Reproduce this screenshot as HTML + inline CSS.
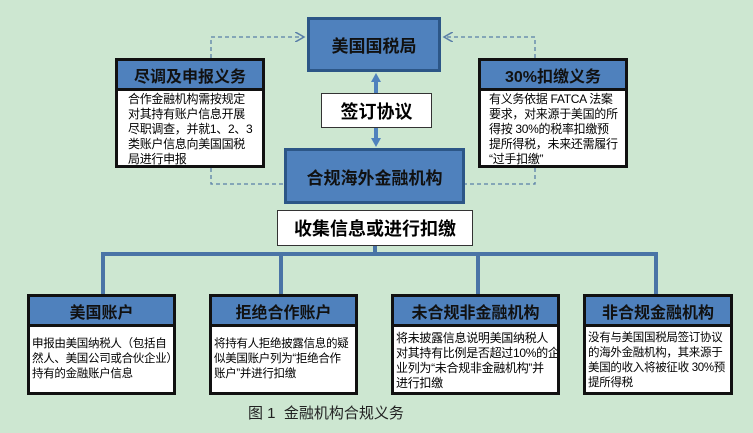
<!DOCTYPE html><html><head><meta charset="utf-8"><style>
body{margin:0;width:753px;height:433px;background:#cde7d1;position:relative;overflow:hidden;font-family:"Liberation Sans","Noto Sans CJK SC",sans-serif}
.a{position:absolute;box-sizing:border-box}
.blue{background:#4f81bd;border:3px solid #2c5687;display:flex;align-items:center;justify-content:center;font-weight:bold;color:#111}
.card{border:3px solid #111;background:#fff;overflow:hidden}
.card .h{background:#4f81bd;border-bottom:3px solid #111;height:27px;display:flex;align-items:center;justify-content:center;font-weight:bold;font-size:16px;color:#111}
.card .b{font-size:12px;line-height:15px;padding:1px 2px;color:#000;white-space:nowrap;letter-spacing:-0.3px}
.w{background:#fff;border:1px solid #333;display:flex;align-items:center;justify-content:center;font-weight:bold;font-size:18px}
</style></head><body>
<svg class="a" style="left:0;top:0" width="753" height="433">
<defs><marker id="m" markerWidth="8" markerHeight="8" refX="7" refY="4" orient="auto"><path d="M0,0 L7,4 L0,8" fill="none" stroke="#5a7fa8" stroke-width="1.2"/></marker></defs>
<g stroke="#5a7fa8" stroke-width="1.3" stroke-dasharray="4,3" fill="none">
<path d="M211 58 V37 H304" marker-end="url(#m)"/><path d="M211 168 V184 H284"/>
<path d="M535 58 V37 H444" marker-end="url(#m)"/><path d="M535 168 V184 H465"/></g>
<line x1="376" y1="80" x2="376" y2="140" stroke="#4f81bd" stroke-width="4"/>
<path d="M376 73 l-5 9 h10z M376 147 l-5 -9 h10z" fill="#4f81bd"/>
<g stroke="#4a74a6" stroke-width="4" fill="none"><path d="M375 246 V254"/><path d="M103 294 V254 H656 V294"/><path d="M281 254 V294 M478 254 V294"/></g>
</svg>
<div class="a blue" style="left:307px;top:17px;width:134px;height:55px;font-size:17px">美国国税局</div>
<div class="a blue" style="left:284px;top:148px;width:181px;height:56px;font-size:17px">合规海外金融机构</div>
<div class="a w" style="left:321px;top:93px;width:111px;height:35px">签订协议</div>
<div class="a w" style="left:277px;top:210px;width:196px;height:36px">收集信息或进行扣缴</div>
<div class="a card" style="left:115px;top:58px;width:150px;height:110px"><div class="h">尽调及申报义务</div><div class="b" style="padding-left:10px">合作金融机构需按规定<br>对其持有账户信息开展<br>尽职调查，并就1、2、3<br>类账户信息向美国国税<br>局进行申报</div></div>
<div class="a card" style="left:478px;top:58px;width:150px;height:110px"><div class="h">30%扣缴义务</div><div class="b" style="padding-left:8px">有义务依据 FATCA 法案<br>要求，对来源于美国的所<br>得按 30%的税率扣缴预<br>提所得税，未来还需履行<br>“过手扣缴”</div></div>
<div class="a card" style="left:27px;top:294px;width:149px;height:101px"><div class="h">美国账户</div><div class="b" style="padding-top:10px;font-size:11.5px">申报由美国纳税人（包括自<br>然人、美国公司或合伙企业）<br>持有的金融账户信息</div></div>
<div class="a card" style="left:209px;top:294px;width:149px;height:101px"><div class="h">拒绝合作账户</div><div class="b" style="padding-top:10px;font-size:11.5px">将持有人拒绝披露信息的疑<br>似美国账户列为“拒绝合作<br>账户”并进行扣缴</div></div>
<div class="a card" style="left:391px;top:294px;width:169px;height:101px"><div class="h">未合规非金融机构</div><div class="b" style="padding-top:4px;font-size:12px">将未披露信息说明美国纳税人<br>对其持有比例是否超过10%的企<br>业列为“未合规非金融机构”并<br>进行扣缴</div></div>
<div class="a card" style="left:583px;top:294px;width:150px;height:101px"><div class="h">非合规金融机构</div><div class="b" style="padding-top:4px;font-size:11.5px">没有与美国国税局签订协议<br>的海外金融机构，其来源于<br>美国的收入将被征收 30%预<br>提所得税</div></div>
<div class="a" style="left:248px;top:402px;font-size:15px;color:#222">图 1&nbsp; 金融机构合规义务</div>
</body></html>
